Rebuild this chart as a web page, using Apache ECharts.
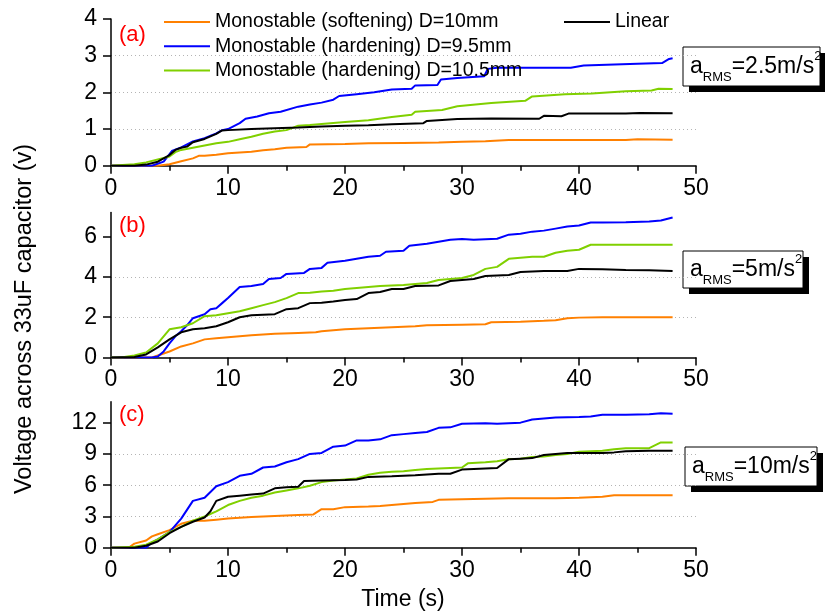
<!DOCTYPE html>
<html><head><meta charset="utf-8">
<script src="https://cdn.jsdelivr.net/npm/echarts@6/dist/echarts.min.js"></script>
<style>html,body{margin:0;padding:0;background:#fff}#c{width:825px;height:616px}</style>
</head><body><div id="c"></div>
<script>
const seriesNames = ['Monostable (softening) D=10mm','Monostable (hardening) D=9.5mm','Monostable (hardening) D=10.5mm','Linear'];
const seriesColors = ['#ff8000','#0000ff','#80d000','#000000'];
const panelLabels = ['(a)','(b)','(c)'];
const rmsLabels = ['2.5','5','10'];
const yMax = [4, 7.2, 14];
const yInterval = [1, 2, 3];
const yTicksA = [0,1,2,3,4];
const yTicksB = [0,2,4,6];
const yTicksC = [0,3,6,9,12];
const yTicks = [yTicksA, yTicksB, yTicksC];

// Panel (a)  a_RMS = 2.5 m/s^2
const a_soft = [[0,0],[4,0],[5,0.04],[6,0.12],[7,0.2],[7.5,0.27],[8,0.27],[9,0.3],[10,0.34],[11,0.36],[12,0.38],[13,0.42],[14,0.45],[15,0.49],[16.7,0.51],[17,0.58],[20,0.59],[22,0.61],[25,0.62],[28,0.63],[30,0.65],[32,0.67],[34,0.7],[40,0.7],[44,0.7],[45,0.72],[48,0.71]];
const a_hard95 = [[0,0],[3.5,0],[4.5,0.11],[5.2,0.4],[6,0.5],[7,0.66],[8,0.75],[9,0.88],[9.5,0.97],[10,1.0],[11,1.16],[11.5,1.28],[12.5,1.34],[13.5,1.43],[14.5,1.47],[16,1.61],[17,1.67],[18,1.72],[19,1.8],[19.5,1.9],[21,1.95],[22.5,2.0],[24,2.08],[25.7,2.1],[26,2.19],[27.9,2.2],[28.2,2.35],[29.6,2.39],[31.9,2.44],[32.2,2.64],[33,2.67],[39.3,2.67],[40.4,2.73],[45,2.78],[47.1,2.8],[47.7,2.91],[48,2.93]];
const a_hard105 = [[0,0],[2,0.04],[3,0.09],[4,0.17],[5,0.25],[5.5,0.37],[6,0.43],[7,0.49],[8,0.55],[9,0.61],[10,0.65],[11,0.72],[12,0.79],[13,0.87],[14,0.93],[15,0.97],[16,1.09],[17,1.11],[18,1.14],[20,1.19],[22,1.24],[24,1.33],[25.7,1.39],[26,1.47],[28.3,1.52],[29.6,1.62],[32.5,1.71],[35.4,1.77],[36,1.89],[38.8,1.95],[41.1,1.97],[44,2.03],[46.2,2.05],[46.8,2.1],[48,2.09]];
const a_linear = [[0,0],[2,0],[3,0.03],[4,0.11],[4.5,0.2],[5,0.29],[5.5,0.43],[6,0.49],[6.5,0.52],[7,0.64],[8,0.73],[9,0.87],[9.5,0.96],[10,0.97],[12,1.0],[14,1.02],[16,1.04],[18,1.07],[20,1.09],[22,1.1],[24,1.13],[26.7,1.16],[27,1.22],[29.6,1.27],[32.5,1.29],[36.6,1.28],[37,1.36],[38.5,1.35],[39.1,1.42],[44,1.42],[45.2,1.44],[48,1.43]];

// Panel (b)  a_RMS = 5 m/s^2
const b_soft = [[0,0],[3.5,0],[4,0.1],[5,0.3],[6,0.55],[7,0.7],[8,0.9],[9,0.95],[10,1.0],[11,1.05],[12,1.1],[14,1.18],[16,1.22],[17.5,1.25],[18,1.3],[20,1.4],[22,1.45],[24,1.5],[26,1.55],[27,1.6],[30,1.63],[32,1.65],[32.5,1.75],[35,1.78],[37,1.82],[38,1.85],[39,1.95],[40,1.98],[42,2.0],[48,2.0]];
const b_hard95 = [[0,0],[3.5,0],[4,0.05],[4.5,0.3],[5,0.7],[5.5,1.05],[6,1.3],[6.5,1.6],[7,1.95],[8,2.15],[8.5,2.4],[9,2.45],[9.5,2.7],[10,2.95],[11,3.5],[12,3.55],[13,3.65],[13.5,3.9],[14.5,3.95],[15,4.15],[16.5,4.2],[17,4.4],[18,4.45],[18.5,4.7],[20,4.8],[21,4.9],[22,5.0],[23,5.05],[23.5,5.25],[25,5.3],[25.5,5.55],[27,5.65],[28,5.75],[29,5.85],[30,5.88],[31,5.85],[33,5.9],[34,6.1],[35,6.15],[36,6.25],[37,6.3],[38,6.4],[39,6.5],[40,6.55],[41,6.7],[42,6.7],[44,6.72],[46,6.75],[47,6.8],[48,6.95]];
const b_hard105 = [[0,0],[1,0.01],[2,0.1],[3,0.25],[4,0.7],[5,1.4],[6,1.5],[7,1.7],[8,2.05],[9,2.1],[10,2.2],[11,2.3],[12,2.45],[13,2.6],[14,2.75],[15,2.95],[16,3.2],[17,3.22],[18,3.28],[19,3.32],[20,3.4],[21,3.45],[22,3.5],[23,3.55],[24,3.58],[25,3.6],[26,3.65],[27,3.7],[28,3.85],[29,3.9],[30,3.95],[31,4.1],[32,4.4],[33,4.5],[34,4.9],[35,4.95],[36,5.0],[37,5.0],[38,5.2],[39,5.3],[40,5.35],[41,5.6],[48,5.6]];
const b_linear = [[0,0],[2,0.02],[3,0.15],[4,0.5],[5,0.9],[6,1.25],[7,1.4],[8,1.45],[9,1.55],[10,1.75],[11,2.0],[12,2.1],[14,2.15],[15,2.4],[16,2.45],[17,2.7],[18,2.72],[19,2.78],[20,2.85],[21,2.9],[22,3.2],[23,3.25],[24,3.4],[25,3.4],[26,3.55],[28,3.58],[29,3.8],[30,3.85],[31,3.9],[32,4.05],[34,4.1],[35,4.25],[37,4.3],[39,4.3],[40,4.4],[42,4.38],[44,4.35],[46,4.33],[48,4.3]];

// Panel (c)  a_RMS = 10 m/s^2
const c_soft = [[0,0],[1.5,0],[2,0.4],[3,0.7],[3.5,1.1],[4,1.3],[5,1.7],[6,2.3],[7,2.6],[8,2.6],[9,2.7],[10,2.8],[12,2.95],[14,3.05],[16,3.15],[17.3,3.2],[18,3.7],[19,3.7],[20,3.9],[22,3.95],[23,4.0],[24,4.1],[26,4.3],[27.5,4.4],[28,4.6],[30,4.65],[32,4.7],[34,4.75],[38,4.75],[40,4.8],[42,4.9],[43,5.05],[48,5.05]];
const c_hard95 = [[0,0],[3,0],[3.5,0.5],[4,0.8],[5,1.5],[6,2.8],[7,4.5],[8,4.8],[9,5.9],[10,6.3],[11,6.9],[12,7.1],[13,7.7],[14,7.8],[15,8.2],[16,8.5],[17,9.0],[18,9.1],[19,9.7],[20,9.8],[21,10.3],[22,10.3],[23,10.4],[24,10.8],[25,10.9],[26,11.0],[27,11.1],[28,11.5],[29,11.55],[30,11.9],[32,11.95],[33,11.9],[35,12.0],[36,12.3],[37,12.4],[38,12.5],[40,12.55],[41,12.6],[42,12.75],[44,12.75],[46,12.8],[47,12.9],[48,12.85]];
const c_hard105 = [[0,0],[2,0.1],[3,0.3],[4,0.8],[5,1.5],[6,2.0],[7,2.6],[8,3.0],[9,3.5],[10,4.1],[11,4.5],[12,4.8],[13,5.0],[14,5.3],[15,5.5],[16,5.7],[17,5.95],[18,6.3],[19,6.45],[20,6.55],[21,6.65],[22,7.0],[23,7.2],[24,7.3],[25,7.35],[26,7.45],[27,7.55],[28,7.6],[29,7.65],[30,7.7],[30.5,8.1],[32,8.2],[33,8.3],[34,8.5],[35,8.55],[36,8.7],[37,8.75],[38,8.9],[39,9.0],[40,9.2],[42,9.3],[43,9.45],[44,9.55],[46,9.55],[47,10.1],[48,10.1]];
const c_linear = [[0,0],[2,0],[3,0.2],[4,0.6],[5,1.4],[6,2.0],[7,2.5],[8,2.9],[8.5,3.5],[9,4.5],[10,4.9],[11,5.0],[12,5.1],[13,5.2],[14,5.7],[15,5.8],[16,5.85],[16.5,6.4],[18,6.45],[20,6.5],[21,6.55],[22,6.8],[24,6.85],[26,6.95],[28,7.1],[29,7.1],[30,7.5],[31,7.55],[32,7.6],[33,7.65],[34,8.5],[35,8.55],[36,8.6],[37,8.9],[38,9.0],[39,9.1],[42,9.1],[43,9.15],[44,9.25],[46,9.3],[48,9.3]];

const panelData = [
  [a_soft, a_hard95, a_hard105, a_linear],
  [b_soft, b_hard95, b_hard105, b_linear],
  [c_soft, c_hard95, c_hard105, c_linear]
];

const FONT = 'Arial, "Liberation Sans", sans-serif';
const grids = [
  {left:111, right:129, top:19, height:146.7},
  {left:111, right:129, top:212.5, height:145},
  {left:111, right:129, top:401.8, height:146}
];

const xAxes = grids.map((g,i)=>({
  type:'value', gridIndex:i, min:0, max:50, interval:10,
  axisLine:{show:true, onZero:false, lineStyle:{color:'#000', width:1.5}},
  axisTick:{show:true, inside:false, length:8, lineStyle:{color:'#000', width:1.5}},
  minorTick:{show:true, splitNumber:2, length:5, lineStyle:{color:'#000', width:1.5}},
  axisLabel:{color:'#000', fontSize:23, fontFamily:FONT, margin:11},
  splitLine:{show:false}
}));
const yAxes = grids.map((g,i)=>({
  type:'value', gridIndex:i, min:0, max:yMax[i], interval:yInterval[i],
  axisLine:{show:true, onZero:false, lineStyle:{color:'#000', width:1.5}},
  axisTick:{show:true, inside:false, length:8, customValues:yTicks[i], lineStyle:{color:'#000', width:1.5}},
  axisLabel:{color:'#000', fontSize:23, fontFamily:FONT, margin:14, customValues:yTicks[i]},
  splitLine:{show:true, showMinLine:false, showMaxLine:false, lineStyle:{color:'#b4b4b4', width:1, type:[1,3]}}
}));

const series = [];
panelData.forEach((arrs,p)=>{
  arrs.forEach((d,k)=>{
    series.push({
      name: seriesNames[k], type:'line', xAxisIndex:p, yAxisIndex:p,
      data: d, showSymbol:false, symbol:'none', smooth:false,
      lineStyle:{color:seriesColors[k], width:2}, itemStyle:{color:seriesColors[k]},
      z: 2+k, animation:false
    });
  });
});

function rmsBox(x,y,w,h,val){
  return {
    type:'group', children:[
      {type:'rect', shape:{x:x+6,y:y+6,width:w,height:h}, style:{fill:'#000'}},
      {type:'rect', shape:{x:x,y:y,width:w,height:h}, style:{fill:'#fff', stroke:'#000', lineWidth:1}},
      {type:'text', style:{x:x+7, y:y+h/2, verticalAlign:'middle', align:'left',
        text:'{m|a}{sub|RMS}{m|='+val+'m/s}{sup|2}',
        rich:{
          m:{fontSize:23, fontFamily:FONT, fill:'#000', lineHeight:34, verticalAlign:'middle'},
          sub:{fontSize:13, fontFamily:FONT, fill:'#000', lineHeight:16, verticalAlign:'bottom'},
          sup:{fontSize:13, fontFamily:FONT, fill:'#000', lineHeight:16, verticalAlign:'top'}
        }}}
    ]
  };
}

const boxes = [[683,47,137,39],[683,251,120,37],[685,447,132,39]];
const graphics = [];
boxes.forEach((b,i)=>graphics.push(rmsBox(b[0],b[1],b[2],b[3],rmsLabels[i])));
[[119,35],[119,226],[119,415]].forEach((p,i)=>graphics.push({
  type:'text', style:{x:p[0], y:p[1], text:panelLabels[i], fill:'#ff0000', fontSize:22, fontFamily:FONT, verticalAlign:'middle'}
}));
graphics.push({type:'text', rotation:Math.PI/2, x:25, y:319,
  style:{x:0,y:0,text:'Voltage across 33uF capacitor (v)', fill:'#000', fontSize:23.5, fontFamily:FONT, align:'center', verticalAlign:'middle'}});
graphics.push({type:'text', style:{x:403, y:600, text:'Time (s)', fill:'#000', fontSize:23, fontFamily:FONT, align:'center', verticalAlign:'middle'}});

const legendText = {fontSize:19.5, fontFamily:FONT, color:'#000', lineHeight:20};
const chart = echarts.init(document.getElementById('c'), null, {renderer:'canvas'});
chart.setOption({
  animation:false,
  backgroundColor:'#fff',
  grid: grids,
  xAxis: xAxes,
  yAxis: yAxes,
  legend:[
    {orient:'vertical', left:159, top:7, icon:'rect', itemWidth:46, itemHeight:2, itemGap:4.2,
     data:seriesNames.slice(0,3), textStyle:legendText},
    {orient:'vertical', left:559, top:7, icon:'rect', itemWidth:46, itemHeight:2,
     data:[seriesNames[3]], textStyle:legendText}
  ],
  series: series,
  graphic: graphics
});
</script>
</body></html>
